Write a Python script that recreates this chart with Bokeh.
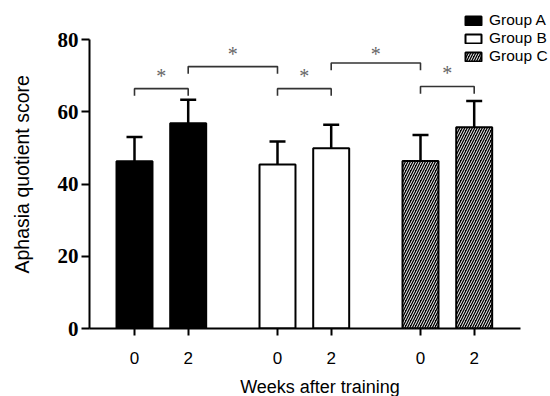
from bokeh.plotting import figure
from bokeh.models import Range1d, Legend, LegendItem, Whisker, TeeHead, ColumnDataSource, FixedTicker, Title
from bokeh.core.properties import value
from bokeh.embed import file_html
from bokeh.resources import INLINE

# ---- data ----
groups = ["Group A", "Group B", "Group C"]
week_labels = ["0", "2"]
group_a_mean = [46.3, 56.8]
group_a_sd = [6.7, 6.5]
group_b_mean = [45.4, 49.9]
group_b_sd = [6.4, 6.5]
group_c_mean = [46.4, 55.7]
group_c_sd = [7.2, 7.3]
y_ticks = [0, 20, 40, 60, 80]

# significance brackets (bar index from, bar index to, bracket height, star height)
bracket_from = [0, 1, 2, 3, 4]
bracket_to = [1, 2, 3, 4, 5]
bracket_y = [66.4, 72.5, 66.4, 73.5, 67.0]
star_y = [70.7, 76.8, 70.7, 76.8, 71.6]

# ---- layout parameters ----
GROUP_STEP = 2.663
BAR_W = 0.67
LEG = 2.0

means = [group_a_mean, group_b_mean, group_c_mean]
sds = [group_a_sd, group_b_sd, group_c_sd]

p = figure(frame_width=461, frame_height=328,
           min_border_left=89, min_border_right=0, min_border_top=0, min_border_bottom=68,
           output_backend="svg", toolbar_location=None,
           x_range=Range1d(-0.838, 7.747), y_range=Range1d(0, 90.8))
p.xgrid.visible = False
p.ygrid.visible = False
p.outline_line_color = None
p.background_fill_color = "white"
p.border_fill_color = "white"

styles = [
    dict(fill_color="black"),
    dict(fill_color="white"),
    dict(fill_color="black", hatch_pattern="/", hatch_color="white", hatch_scale=5, hatch_weight=1),
]

all_pos = []
renderers = []
for g, name in enumerate(groups):
    pos = [g * GROUP_STEP + w for w in range(len(week_labels))]
    all_pos += pos
    tops = means[g]
    src = ColumnDataSource(dict(x=pos, top=tops,
                                up=[m + s for m, s in zip(tops, sds[g])]))
    r = p.vbar(x="x", top="top", bottom=0, width=BAR_W, source=src,
               line_color="black", line_width=2, **styles[g])
    renderers.append(r)
    wh = Whisker(base="x", lower="top", upper="up", source=src, dimension="height",
                 line_color="black", line_width=2.5,
                 lower_head=None,
                 upper_head=TeeHead(size=16, line_color="black", line_width=2.5))
    p.add_layout(wh)

# brackets
xs, ys, sx = [], [], []
for a, b, h in zip(bracket_from, bracket_to, bracket_y):
    x0, x1 = all_pos[a], all_pos[b]
    xs.append([x0, x0, x1, x1])
    ys.append([h - LEG, h, h, h - LEG])
    sx.append((x0 + x1) / 2)
p.multi_line(xs=xs, ys=ys, line_color="#333333", line_width=1.6)
p.text(x=sx, y=star_y, text=["*"] * len(sx), text_font=value("Liberation Serif"),
       text_font_size="20px", text_color="#666666", text_align="center",
       text_baseline="middle", y_offset=3)

# axes
ya = p.yaxis[0]
ya.bounds = (0, 80)
ya.ticker = FixedTicker(ticks=y_ticks)
ya.minor_tick_line_color = None
ya.axis_line_width = 2
ya.major_tick_line_width = 2
ya.major_tick_out = 8
ya.major_tick_in = 0
ya.major_label_standoff = 3
ya.major_label_text_font = "Liberation Serif"
ya.major_label_text_font_style = "bold"
ya.major_label_text_font_size = "21px"
ya.major_label_text_color = "black"
# invisible spacer label, pushes the title further left
ya.axis_label = " "
ya.axis_label_text_font_size = "1px"
ya.axis_label_standoff = 13

ytitle = Title(text="Aphasia quotient score", align="left", offset=55, standoff=10,
               text_font="Liberation Sans", text_font_style="normal",
               text_font_size="19.5px", text_color="black")
p.add_layout(ytitle, "left")

xa = p.xaxis[0]
xa.bounds = (-0.838, 7.188)
xa.ticker = FixedTicker(ticks=all_pos)
xa.major_label_overrides = {x: week_labels[i % 2] for i, x in enumerate(all_pos)}
xa.minor_tick_line_color = None
xa.axis_line_width = 2
xa.major_tick_line_width = 2
xa.major_tick_out = 7
xa.major_tick_in = 0
xa.major_label_standoff = 16
xa.major_label_text_font = "Liberation Sans"
xa.major_label_text_font_size = "17px"
xa.major_label_text_color = "black"
xa.axis_label = "Weeks after training"
xa.axis_label_text_font = "Liberation Sans"
xa.axis_label_text_font_style = "normal"
xa.axis_label_text_font_size = "18px"
xa.axis_label_text_color = "black"
xa.axis_label_standoff = 10

legend = Legend(items=[LegendItem(label=n, renderers=[r]) for n, r in zip(groups, renderers)],
                location=(374, 263), padding=0, margin=0, spacing=0,
                label_height=16, glyph_height=11, glyph_width=20, label_standoff=6,
                label_text_font="Liberation Sans", label_text_font_size="15.5px",
                label_text_color="black",
                border_line_color=None, background_fill_alpha=0)
p.add_layout(legend)

open("out.html", "w").write(file_html(p, INLINE))
